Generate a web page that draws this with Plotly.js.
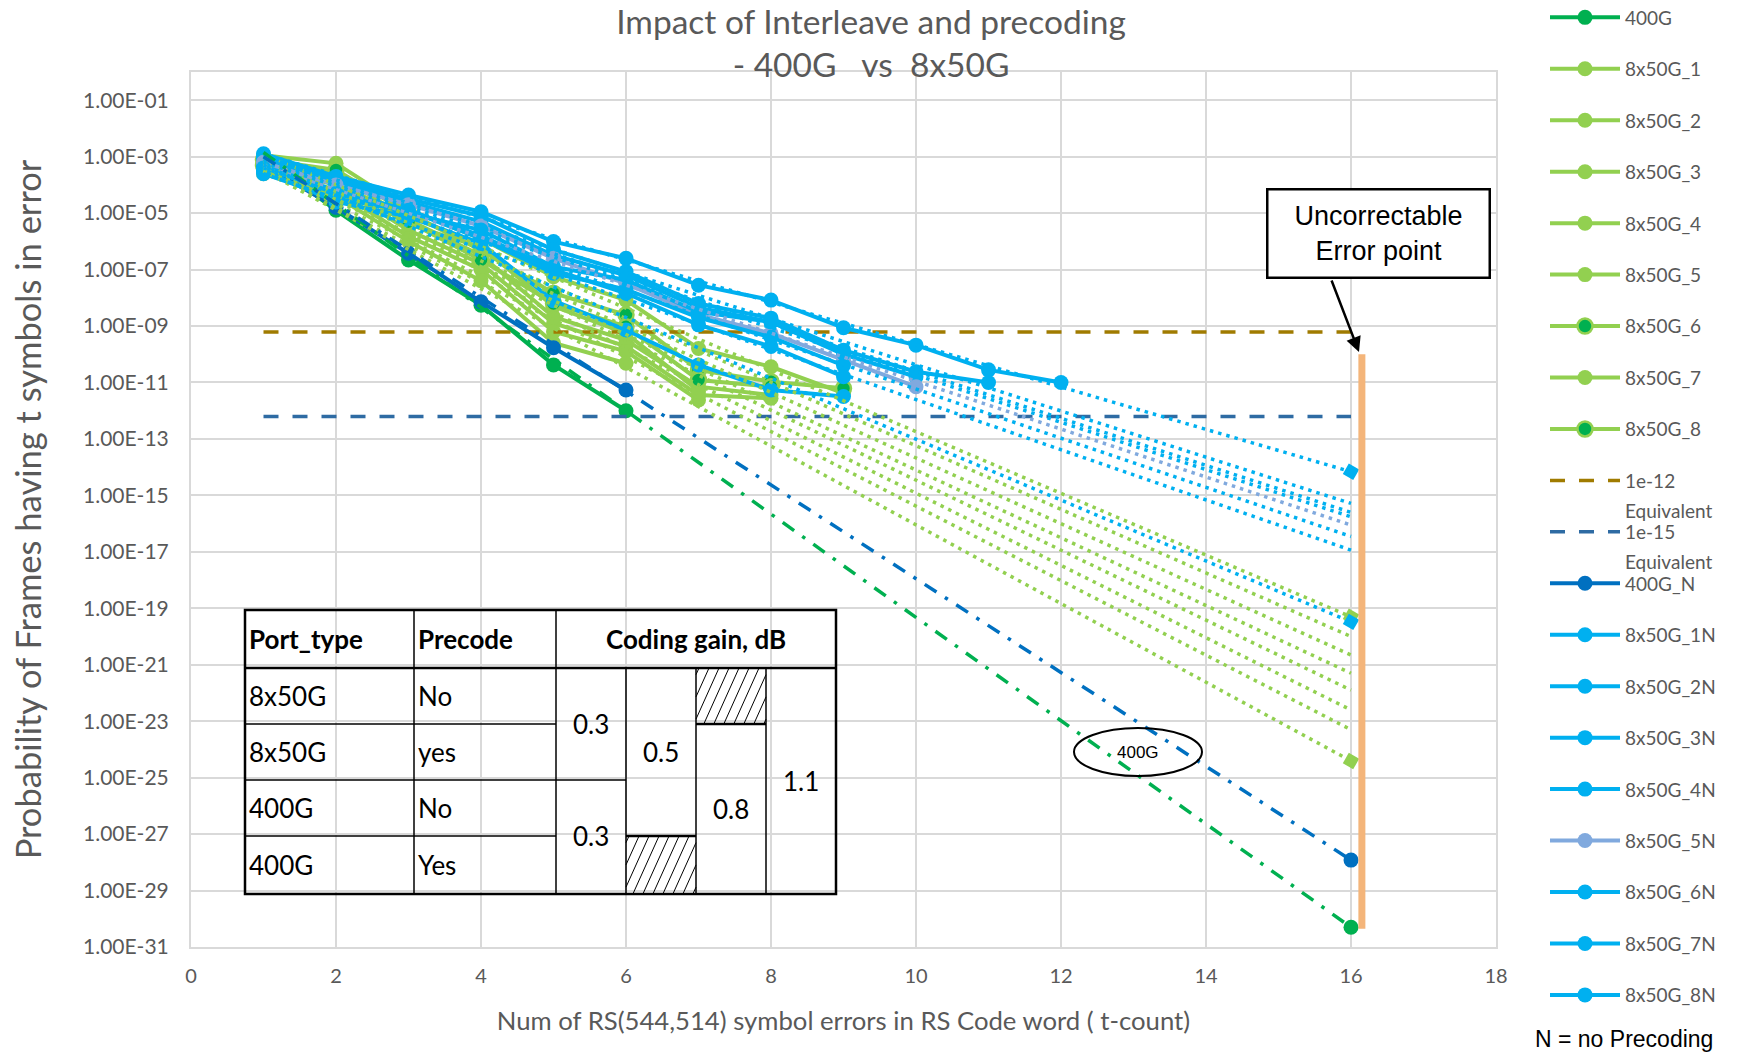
<!DOCTYPE html>
<html>
<head>
<meta charset="utf-8">
<script src="https://cdn.plot.ly/plotly-3.0.1.min.js"></script>
<style>html,body{margin:0;padding:0;background:#fff;}#chart{width:1754px;height:1053px;}</style>
</head>
<body>
<div id="chart"></div>
<script>
// ---------------- DATA ----------------
const tCount = [1, 2, 3, 4, 5, 6, 7, 8, 9, 10, 11, 12];

const y400G   = [1.0e-3, 1.26e-5, 2.2e-7, 5.5e-9, 4.2e-11, 1.0e-12];
const y400G_N = [5.0e-4, 1.6e-5, 3.8e-7, 7.2e-9, 1.7e-10, 5.4e-12];

const y8x50G_1 = [1.12e-3, 5.8e-4, 1.3e-5, 1.26e-6, 5.6e-8, 8.3e-9, 1.6e-10, 3.6e-11, 4.2e-12];
const y8x50G_2 = [6.3e-4, 2.5e-4, 5.8e-6, 3.2e-7, 2.1e-9, 3.2e-10, 7.1e-12, 3.6e-12];
const y8x50G_3 = [4.0e-4, 1.0e-4, 2.5e-6, 1.6e-7, 1.26e-9, 1.9e-10, 3.6e-12, 2.75e-12];
const y8x50G_4 = [3.2e-4, 6.3e-5, 1.5e-6, 1.0e-7, 6.3e-10, 1.26e-10, 2.4e-12];
const y8x50G_5 = [2.5e-4, 4.0e-5, 1.0e-6, 4.0e-8, 2.5e-10, 4.8e-11];
const y8x50G_6 = [7.9e-4, 3.4e-4, 1.0e-5, 4.9e-7, 1.45e-8, 2.5e-9, 2.75e-11, 1.07e-11, 6.2e-12];
const y8x50G_7 = [1.0e-3, 1.6e-4, 4.0e-6, 6.3e-7, 5.0e-9, 5.5e-10, 5.0e-12];
const y8x50G_8 = [5.0e-4, 1.26e-4, 5.0e-6, 2.2e-7, 6.3e-9, 9.5e-10, 1.23e-11, 7.1e-12];

const y8x50G_1N = [1.26e-3, 2.0e-4, 4.4e-5, 1.12e-5, 9.8e-7, 2.5e-7, 2.8e-8, 8.3e-9, 8.7e-10, 2.1e-10, 2.8e-11, 1.0e-11];
const y8x50G_2N = [1.0e-3, 1.6e-4, 3.2e-5, 7.9e-6, 5.0e-7, 8.5e-8, 6.3e-9, 1.9e-9, 1.4e-10, 2.4e-11, 1.0e-11];
const y8x50G_3N = [7.9e-4, 1.26e-4, 2.5e-5, 5.0e-6, 3.2e-7, 6.3e-8, 4.5e-9, 1.4e-9, 1.0e-10, 1.6e-11];
const y8x50G_4N = [5.0e-4, 6.3e-5, 1.26e-5, 1.6e-6, 1.0e-7, 1.45e-8, 1.1e-9, 1.9e-10, 1.6e-11];
const y8x50G_5N = [6.3e-4, 1.0e-4, 2.0e-5, 3.5e-6, 2.5e-7, 3.2e-8, 2.5e-9, 5.5e-10, 6.3e-11, 7.1e-12];
const y8x50G_6N = [3.2e-4, 2.5e-5, 7.4e-6, 8.5e-7, 7.9e-9, 7.2e-10, 4.2e-11, 5.4e-12, 3.2e-12];
const y8x50G_7N = [4.0e-4, 5.0e-5, 1.0e-5, 2.5e-6, 1.26e-7, 4.3e-8, 3.2e-9, 1.4e-9, 1.1e-10];
const y8x50G_8N = [2.5e-4, 3.2e-5, 1.26e-5, 1.26e-6, 7.4e-8, 2.0e-8, 2.0e-9, 4.0e-10, 4.0e-11];

// equivalent-BER thresholds
const thresholdX = [1, 16];
const thr1e12 = [6.2e-10, 6.2e-10];
const thr1e15 = [6.2e-13, 6.2e-13];

// exponential trendlines (values at t = 1 and t = 16)
const trendX = [1, 16];
const tr400G   = [1.4e-3, 5.0e-31];
const tr400G_N = [1.0e-3, 1.2e-28];
const tr8x50G_1 = [1.26e-3, 5.0e-20];
const tr8x50G_2 = [5.0e-4, 1.26e-22];
const tr8x50G_3 = [4.0e-4, 2.5e-23];
const tr8x50G_4 = [3.2e-4, 5.0e-24];
const tr8x50G_5 = [3.2e-4, 3.9e-25];
const tr8x50G_6 = [7.9e-4, 1.0e-20];
const tr8x50G_7 = [5.0e-4, 5.0e-22];
const tr8x50G_8 = [6.3e-4, 2.2e-21];
const tr8x50G_1N = [1.26e-3, 6.9e-15];
const tr8x50G_2N = [1.0e-3, 5.2e-16];
const tr8x50G_3N = [7.9e-4, 2.5e-16];
const tr8x50G_4N = [4.0e-4, 3.5e-17];
const tr8x50G_5N = [5.0e-4, 8.9e-17];
const tr8x50G_6N = [5.0e-4, 3.3e-20];
const tr8x50G_7N = [6.3e-4, 1.74e-16];
const tr8x50G_8N = [2.5e-4, 1.15e-17];

// points at the uncorrectable error point t = 16
const endX2 = [16, 16];
const endX1 = [16];
const end400G = [5.0e-31];
const end400G_N = [1.2e-28];
const end8x50G = [5.0e-20, 3.9e-25];
const end8x50GN = [6.9e-15, 3.3e-20];

const xTickVals = [0, 2, 4, 6, 8, 10, 12, 14, 16, 18];
const yTickVals = [1e-31, 1e-29, 1e-27, 1e-25, 1e-23, 1e-21, 1e-19, 1e-17, 1e-15, 1e-13, 1e-11, 1e-9, 1e-7, 1e-5, 1e-3, 1e-1];
const yTickLabels = ['1.00E-31','1.00E-29','1.00E-27','1.00E-25','1.00E-23','1.00E-21','1.00E-19','1.00E-17','1.00E-15','1.00E-13','1.00E-11','1.00E-09','1.00E-07','1.00E-05','1.00E-03','1.00E-01'];

const tableHeader = ['Port_type', 'Precode', 'Coding gain, dB'];
const tablePort = ['8x50G', '8x50G', '400G', '400G'];
const tablePrecode = ['No', 'yes', 'No', 'Yes'];
const tableGains = ['0.3', '0.3', '0.5', '0.8', '1.1'];

// ---------------- STYLE ----------------
const C_DKGREEN = '#00B050', C_LTGREEN = '#92D050', C_DKBLUE = '#0070C0', C_LTBLUE = '#00B0F0', C_LAV = '#80A9DE';
const FONT = 'Lato, "Open Sans", sans-serif';
const ARIAL = '"Liberation Sans", Arial, sans-serif';
const GREY = '#595959';
const W = 1754, H = 1053, PL = 191, PR = 1496, PT = 72, PB = 947;
const px = x => (x - PL) / (PR - PL);
const py = y => (PB - y) / (PB - PT);

function series(name, y, color, mFill, mLine) {
  return {
    type: 'scatter', mode: 'lines+markers', name: name, legendgroup: name,
    x: tCount.slice(0, y.length), y: y,
    line: {color: color, width: 4},
    marker: {size: 15, color: mFill || color, line: {color: mLine || color, width: mLine ? 2.5 : 0}},
    hoverinfo: 'skip'
  };
}
function trend(y, color, dash) {
  return {type: 'scatter', mode: 'lines', x: trendX, y: y, showlegend: false, hoverinfo: 'skip',
          line: {color: color, width: 3.5, dash: dash === 'dd' ? '14px,10px,3.5px,10px' : '3.5px,5px'}};
}
function thr(name, y, color) {
  return {type: 'scatter', mode: 'lines', name: name, legendgroup: name, x: thresholdX, y: y,
          line: {color: color, width: 3.5, dash: '15px,14px'}, hoverinfo: 'skip'};
}
function ends(x, y, color, symbol, size) {
  return {type: 'scatter', mode: 'markers', x: x, y: y, showlegend: false, hoverinfo: 'skip',
          marker: {color: color, size: size, symbol: symbol, angle: symbol === 'square' ? 30 : 0}};
}

const traces = [
  series('400G', y400G, C_DKGREEN),
  series('8x50G_1', y8x50G_1, C_LTGREEN),
  series('8x50G_2', y8x50G_2, C_LTGREEN),
  series('8x50G_3', y8x50G_3, C_LTGREEN),
  series('8x50G_4', y8x50G_4, C_LTGREEN),
  series('8x50G_5', y8x50G_5, C_LTGREEN),
  series('8x50G_6', y8x50G_6, C_LTGREEN, C_DKGREEN, C_LTGREEN),
  series('8x50G_7', y8x50G_7, C_LTGREEN),
  series('8x50G_8', y8x50G_8, C_LTGREEN, C_DKGREEN, C_LTGREEN),
  thr('1e-12', thr1e12, '#A07B00'),
  thr('1e-15', thr1e15, '#2E6BA3'),
  series('400G_N', y400G_N, C_DKBLUE),
  series('8x50G_1N', y8x50G_1N, C_LTBLUE),
  series('8x50G_2N', y8x50G_2N, C_LTBLUE),
  series('8x50G_3N', y8x50G_3N, C_LTBLUE),
  series('8x50G_4N', y8x50G_4N, C_LTBLUE),
  series('8x50G_5N', y8x50G_5N, C_LAV),
  series('8x50G_6N', y8x50G_6N, C_LTBLUE),
  series('8x50G_7N', y8x50G_7N, C_LTBLUE),
  series('8x50G_8N', y8x50G_8N, C_LTBLUE),
  trend(tr8x50G_1, C_LTGREEN), trend(tr8x50G_2, C_LTGREEN), trend(tr8x50G_3, C_LTGREEN), trend(tr8x50G_4, C_LTGREEN),
  trend(tr8x50G_5, C_LTGREEN), trend(tr8x50G_6, C_LTGREEN), trend(tr8x50G_7, C_LTGREEN), trend(tr8x50G_8, C_LTGREEN),
  trend(tr8x50G_1N, C_LTBLUE), trend(tr8x50G_2N, C_LTBLUE), trend(tr8x50G_3N, C_LTBLUE), trend(tr8x50G_4N, C_LTBLUE),
  trend(tr8x50G_5N, C_LAV), trend(tr8x50G_6N, C_LTBLUE), trend(tr8x50G_7N, C_LTBLUE), trend(tr8x50G_8N, C_LTBLUE),
  trend(tr400G, C_DKGREEN, 'dd'), trend(tr400G_N, C_DKBLUE, 'dd'),
  ends(endX2, end8x50G, C_LTGREEN, 'square', 12),
  ends(endX2, end8x50GN, C_LTBLUE, 'square', 12),
  ends(endX1, end400G, C_DKGREEN, 'circle', 15),
  ends(endX1, end400G_N, C_DKBLUE, 'circle', 15)
];

// ---------------- SHAPES / ANNOTATIONS ----------------
const shapes = [];
const annotations = [];
const L = (x0, y0, x1, y1, w, color) => shapes.push({type: 'line', xref: 'paper', yref: 'paper',
  x0: px(x0), y0: py(y0), x1: px(x1), y1: py(y1), line: {color: color || '#000', width: w}});

// uncorrectable error marker line at t ~ 16
shapes.push({type: 'line', xref: 'x', yref: 'paper', x0: 16.15, x1: 16.15, y0: (31 - 10.0) / 31, y1: (31 - 30.35) / 31,
  line: {color: '#F4B57A', width: 7}});
// ellipse
shapes.push({type: 'circle', xref: 'paper', yref: 'paper', x0: px(1074), x1: px(1202), y0: py(728), y1: py(776),
  line: {color: '#000', width: 2}, fillcolor: 'rgba(0,0,0,0)'});

// table
const C = [245, 414, 556, 626, 696, 766, 836];
const R = [610, 668, 724, 780, 836, 894];
shapes.push({type: 'rect', xref: 'paper', yref: 'paper', x0: px(C[0]), x1: px(C[6]), y0: py(R[0]), y1: py(R[5]),
  line: {color: '#000', width: 2.5}, fillcolor: 'rgba(0,0,0,0)'});
L(C[0], R[1], C[6], R[1], 2.5);
L(C[1], R[0], C[1], R[5], 1.5); L(C[2], R[0], C[2], R[5], 1.5);
L(C[0], R[2], C[2], R[2], 1.5); L(C[0], R[3], C[2], R[3], 1.5); L(C[0], R[4], C[2], R[4], 1.5);
L(C[2], R[3], C[3], R[3], 1.5);
L(C[3], R[1], C[3], R[5], 1.5); L(C[4], R[1], C[4], R[5], 1.5); L(C[5], R[1], C[5], R[5], 1.5);
L(C[3], R[4], C[4], R[4], 2.5);
L(C[4], R[2], C[5], R[2], 2.5);
function hatch(x0, y0, x1, y1) {
  const h = y1 - y0, dx = h * 0.45, step = 10;
  for (let a = x0 - dx + 3; a < x1; a += step) {
    let xa = a, ya = y1, xb = a + dx, yb = y0;
    if (xa < x0) { ya = y1 - (x0 - xa) / dx * h; xa = x0; }
    if (xb > x1) { yb = y0 + (xb - x1) / dx * h; xb = x1; }
    if (xb - xa > 0.5) L(xa, ya, xb, yb, 1);
  }
}
hatch(C[4], R[1], C[5], R[2]);
hatch(C[3], R[4], C[4], R[5]);

const T = (x, y, text, opts) => annotations.push(Object.assign({xref: 'paper', yref: 'paper', x: px(x), y: py(y),
  text: text, showarrow: false, xanchor: 'left', yanchor: 'middle', font: {family: FONT, size: 26, color: '#000'}}, opts || {}));
const rowMid = [(R[1] + R[2]) / 2, (R[2] + R[3]) / 2, (R[3] + R[4]) / 2, (R[4] + R[5]) / 2];
T(C[0] + 2, (R[0] + R[1]) / 2, '<b>' + tableHeader[0] + '</b>');
T(C[1] + 2, (R[0] + R[1]) / 2, '<b>' + tableHeader[1] + '</b>');
T((C[2] + C[6]) / 2, (R[0] + R[1]) / 2, '<b>' + tableHeader[2] + '</b>', {xanchor: 'center'});
for (let i = 0; i < 4; i++) { T(C[0] + 2, rowMid[i], tablePort[i]); T(C[1] + 2, rowMid[i], tablePrecode[i]); }
T((C[2] + C[3]) / 2, R[2], tableGains[0], {xanchor: 'center'});
T((C[2] + C[3]) / 2, R[4], tableGains[1], {xanchor: 'center'});
T((C[3] + C[4]) / 2, (R[1] + R[4]) / 2, tableGains[2], {xanchor: 'center'});
T((C[4] + C[5]) / 2, (R[2] + R[5]) / 2, tableGains[3], {xanchor: 'center'});
T((C[5] + C[6]) / 2, (R[1] + R[5]) / 2, tableGains[4], {xanchor: 'center'});

// callout box + arrow
annotations.push({xref: 'paper', yref: 'paper', x: px(1378), y: py(233.5), xanchor: 'center', yanchor: 'middle',
  text: 'Uncorrectable<br>Error point', showarrow: false, font: {family: ARIAL, size: 27, color: '#000'},
  bordercolor: '#000', borderwidth: 2.5, borderpad: 3, bgcolor: '#fff', width: 214, height: 80});
annotations.push({xref: 'paper', yref: 'paper', x: px(1359), y: py(352), ax: -28, ay: -73, text: '',
  showarrow: true, arrowhead: 2, arrowsize: 1.2, arrowwidth: 2.5, arrowcolor: '#000'});
// ellipse label
annotations.push({xref: 'paper', yref: 'paper', x: px(1138), y: py(752), text: '400G', showarrow: false,
  xanchor: 'center', yanchor: 'middle', font: {family: ARIAL, size: 17, color: '#000'}});
// legend second lines and footnote
annotations.push({xref: 'paper', yref: 'paper', x: px(1623), y: py(510), text: 'Equivalent', showarrow: false,
  xanchor: 'left', yanchor: 'middle', font: {family: FONT, size: 19, color: GREY}});
annotations.push({xref: 'paper', yref: 'paper', x: px(1623), y: py(561), text: 'Equivalent', showarrow: false,
  xanchor: 'left', yanchor: 'middle', font: {family: FONT, size: 19, color: GREY}});
annotations.push({xref: 'paper', yref: 'paper', x: px(1533), y: py(1039), text: 'N = no Precoding', showarrow: false,
  xanchor: 'left', yanchor: 'middle', font: {family: ARIAL, size: 23, color: '#000'}});

const layout = {
  width: W, height: H,
  margin: {l: PL, r: W - PR, t: PT, b: H - PB, pad: 0, autoexpand: false},
  paper_bgcolor: '#fff', plot_bgcolor: '#fff',
  hovermode: false,
  title: {text: 'Impact of Interleave and precoding<br>- 400G&nbsp;&nbsp; vs&nbsp; 8x50G', x: 0.4966, xanchor: 'center', xref: 'container',
          y: 0.968, yanchor: 'top', yref: 'container', font: {family: FONT, size: 33.5, color: GREY}},
  xaxis: {range: [0, 18], tickvals: xTickVals, showgrid: true, gridcolor: '#D9D9D9', gridwidth: 2, zeroline: false,
          showline: true, mirror: true, linecolor: '#D9D9D9', linewidth: 2, ticks: '', ticklabelstandoff: 10,
          tickfont: {family: FONT, size: 20, color: GREY},
          title: {text: 'Num of RS(544,514) symbol errors in RS Code word ( t-count)', standoff: 26,
                  font: {family: FONT, size: 25.7, color: GREY}}},
  yaxis: {type: 'log', range: [-31, 0], tickvals: yTickVals, ticktext: yTickLabels, showgrid: true, gridcolor: '#D9D9D9',
          gridwidth: 2, zeroline: false, showline: true, mirror: true, linecolor: '#D9D9D9', linewidth: 2, ticks: '',
          ticklabelstandoff: 16, tickfont: {family: FONT, size: 21, color: GREY},
          title: {text: 'Probability of Frames having t symbols in error', standoff: 31,
                  font: {family: FONT, size: 34.5, color: GREY}}},
  legend: {x: px(1545), xanchor: 'left', y: py(-1.5), yanchor: 'top', bgcolor: 'rgba(0,0,0,0)', maxheight: 1200,
           font: {family: FONT, size: 19, color: GREY}, tracegroupgap: 23.75, itemwidth: 70},
  shapes: shapes,
  annotations: annotations
};

Plotly.newPlot('chart', traces, layout, {displayModeBar: false, staticPlot: true});
</script>
</body>
</html>
